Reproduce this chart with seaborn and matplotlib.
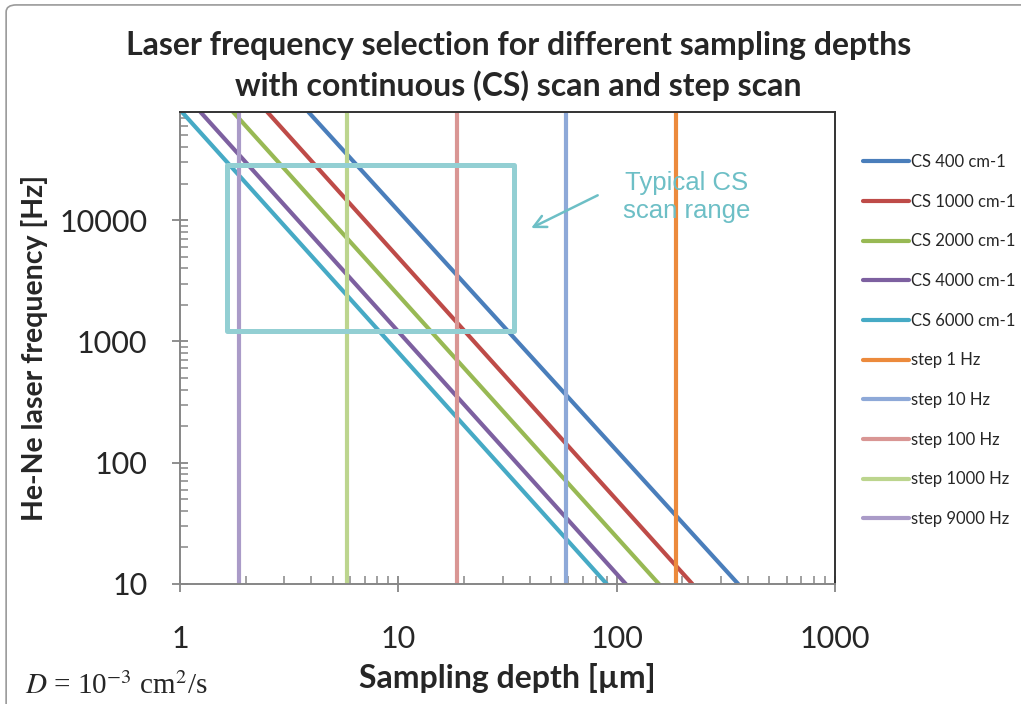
import numpy as np
import pandas as pd
import matplotlib
matplotlib.use("Agg")
import matplotlib.pyplot as plt
import seaborn as sns
from matplotlib.patches import Rectangle, FancyBboxPatch
from matplotlib.ticker import LogLocator, NullFormatter, FixedLocator

# -----------------------------
# Data
# -----------------------------
freq_top = 78000      # top of the plotted frequency range [Hz]
freq_bottom = 10      # bottom of the range [Hz]

# continuous scan lines: sampling depth [um] at the top and at the bottom of the plot
cs_labels = ["CS 400 cm-1", "CS 1000 cm-1", "CS 2000 cm-1", "CS 4000 cm-1", "CS 6000 cm-1"]
cs_depth_top = [3.87, 2.51, 1.75, 1.24, 1.02]
cs_depth_bottom = [360, 222, 156, 110, 90]

# step scan lines: fixed sampling depth [um]
step_labels = ["step 1 Hz", "step 10 Hz", "step 100 Hz", "step 1000 Hz", "step 9000 Hz"]
step_depth = [186, 58.5, 18.6, 5.8, 1.87]

# typical CS scan range box
box_depth = [1.64, 34.0]
box_freq = [1210, 28500]

colors = ["#4A7EBB", "#BE4B48", "#98B954", "#7D60A0", "#46AAC5",
          "#EC8A3C", "#8EA9D8", "#D99694", "#BCD58E", "#AA9BC8"]

# build long-form table
rows = []
for lab, xt, xb in zip(cs_labels, cs_depth_top, cs_depth_bottom):
    rows.append((lab, xt, freq_top))
    rows.append((lab, xb, freq_bottom))
for lab, x in zip(step_labels, step_depth):
    rows.append((lab, x, freq_top))
    rows.append((lab, x, freq_bottom))
df = pd.DataFrame(rows, columns=["series", "depth", "freq"])

# -----------------------------
# Plot
# -----------------------------
sns.set_style("white")
plt.rcParams["font.family"] = ["Lato", "DejaVu Sans"]
plt.rcParams["mathtext.fontset"] = "stix"

fig = plt.figure(figsize=(10.21, 7.04), dpi=100)
ax = fig.add_axes([0.1763, 0.1705, 0.6416, 0.6705])

order = cs_labels + step_labels
sns.lineplot(data=df, x="depth", y="freq", hue="series", hue_order=order,
             palette=colors, estimator=None, sort=False, linewidth=3,
             ax=ax, legend="full")

ax.set_xscale("log")
ax.set_yscale("log")
ax.set_xlim(1, 1000)
ax.set_ylim(freq_bottom, freq_top)

# box + annotation
ax.add_patch(Rectangle((box_depth[0], box_freq[0]), box_depth[1] - box_depth[0],
                       box_freq[1] - box_freq[0], fill=False, edgecolor="#93CFD3",
                       linewidth=3.6, joinstyle="round", zorder=5))
ax.annotate("", xy=(39.5, 8400), xytext=(84, 16400),
            arrowprops=dict(arrowstyle="->", color="#6DBFC6", lw=1.8,
                            mutation_scale=22))
ax.text(209, 15500, "Typical CS\nscan range", color="#6DBFC6", fontsize=18.5,
        ha="center", va="center", family="Liberation Sans", linespacing=1.2)

# ticks
ax.xaxis.set_major_locator(FixedLocator([1, 10, 100, 1000]))
ax.yaxis.set_major_locator(FixedLocator([10, 100, 1000, 10000]))
ax.xaxis.set_minor_locator(LogLocator(base=10, subs=np.arange(2, 10), numticks=20))
ax.yaxis.set_minor_locator(LogLocator(base=10, subs=np.arange(2, 10), numticks=20))
ax.xaxis.set_minor_formatter(NullFormatter())
ax.yaxis.set_minor_formatter(NullFormatter())
ax.set_xticklabels(["1", "10", "100", "1000"])
ax.set_yticklabels(["10", "100", "1000", "10000"])
ax.tick_params(which="major", direction="inout", length=11, width=1.3,
               color="#868686", labelsize=22)
ax.tick_params(axis="y", which="major", pad=18)
ax.tick_params(axis="x", which="major", pad=24)
ax.tick_params(which="minor", direction="in", length=6, width=1.1, color="#868686")
ax.tick_params(left=True, bottom=True, which="both")

for s in ["left", "bottom"]:
    ax.spines[s].set_color("#868686")
    ax.spines[s].set_linewidth(1.4)
for s in ["top", "right"]:
    ax.spines[s].set_color("#333333")
    ax.spines[s].set_linewidth(1.4)

ax.set_xlabel("Sampling depth [µm]", fontsize=23, fontweight="bold", labelpad=7)
ax.set_ylabel("He-Ne laser frequency [Hz]", fontsize=20.5, fontweight="bold", labelpad=8)

fig.text(0.508, 0.906, "Laser frequency selection for different sampling depths\n"
         "with continuous (CS) scan and step scan", ha="center", va="center",
         fontsize=23, fontweight="bold", linespacing=1.38)

# legend
handles, labels = ax.get_legend_handles_labels()
leg = ax.legend(handles, labels, loc="upper left", bbox_to_anchor=(1.033, 0.925),
                frameon=False, fontsize=12, labelspacing=1.42, handlelength=2.75,
                handletextpad=0.12, borderaxespad=0)
for line in leg.get_lines():
    line.set_linewidth(3)

# diffusion coefficient note
fig.text(0.024, 0.006, r"$D$ = 10$^{-3}$ cm$^{2}$/s", fontsize=21,
         family="Liberation Serif", ha="left", va="bottom")

# outer chart frame
fig.patches.append(FancyBboxPatch((0.006, -0.05), 1.2, 1.043,
                                  boxstyle="round,pad=0,rounding_size=0.01",
                                  transform=fig.transFigure, fill=False,
                                  edgecolor="#9A9A9A", linewidth=1.2))

fig.savefig("out.png", dpi=100)
